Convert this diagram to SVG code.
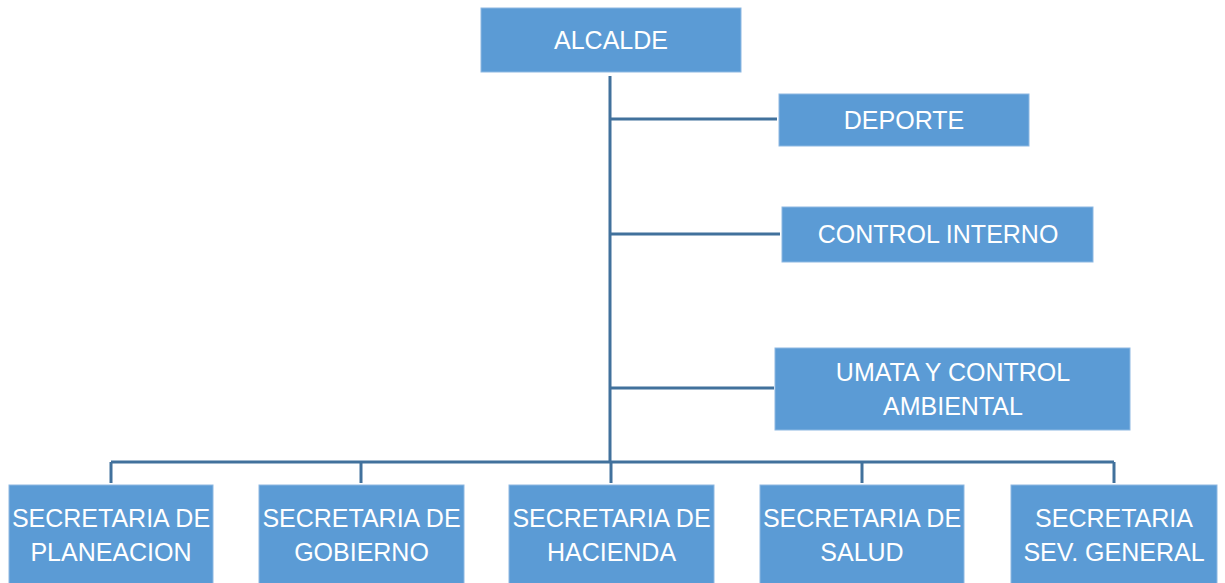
<svg xmlns="http://www.w3.org/2000/svg" width="1225" height="583" viewBox="0 0 1225 583">
<style>
.box{fill:#5B9BD5;stroke:#8DB8E2;stroke-width:1}
.lbl{font-family:"Liberation Sans",Arial,sans-serif;font-size:25px;fill:#FFFFFF;text-anchor:middle}
.con{stroke:#41719C;stroke-width:3;fill:none}
</style>
<rect width="1225" height="583" fill="#FFFFFF"/>
<g id="connectors">
<path class="con" d="M610,76 V462"/>
<path class="con" d="M610,119 H777"/>
<path class="con" d="M610,234 H780"/>
<path class="con" d="M610,388 H774"/>
<path class="con" d="M111,462 H1114"/>
<path class="con" d="M111,462 V483"/>
<path class="con" d="M361,462 V483"/>
<path class="con" d="M611,462 V483"/>
<path class="con" d="M862,462 V483"/>
<path class="con" d="M1114,462 V483"/>
</g>
<g id="alcalde"><rect class="box" x="481" y="8" width="260" height="64"/><text class="lbl" x="611" y="49">ALCALDE</text></g>
<g id="deporte"><rect class="box" x="779" y="94" width="250" height="52"/><text class="lbl" x="904" y="129">DEPORTE</text></g>
<g id="control-interno"><rect class="box" x="782" y="207" width="311" height="55"/><text class="lbl" x="938" y="243">CONTROL INTERNO</text></g>
<g id="umata"><rect class="box" x="775" y="348" width="355" height="82"/><text class="lbl" x="953" y="381">UMATA Y CONTROL</text><text class="lbl" x="953" y="415">AMBIENTAL</text></g>
<g id="planeacion"><rect class="box" x="9" y="485" width="204" height="100"/><text class="lbl" x="111" y="527">SECRETARIA DE</text><text class="lbl" x="111" y="561">PLANEACION</text></g>
<g id="gobierno"><rect class="box" x="259" y="485" width="205" height="100"/><text class="lbl" x="361.5" y="527">SECRETARIA DE</text><text class="lbl" x="361.5" y="561">GOBIERNO</text></g>
<g id="hacienda"><rect class="box" x="509" y="485" width="205" height="100"/><text class="lbl" x="611.5" y="527">SECRETARIA DE</text><text class="lbl" x="611.5" y="561">HACIENDA</text></g>
<g id="salud"><rect class="box" x="760" y="485" width="204" height="100"/><text class="lbl" x="862" y="527">SECRETARIA DE</text><text class="lbl" x="862" y="561">SALUD</text></g>
<g id="general"><rect class="box" x="1011" y="485" width="206" height="100"/><text class="lbl" x="1114" y="527">SECRETARIA</text><text class="lbl" x="1114" y="561">SEV. GENERAL</text></g>
</svg>
